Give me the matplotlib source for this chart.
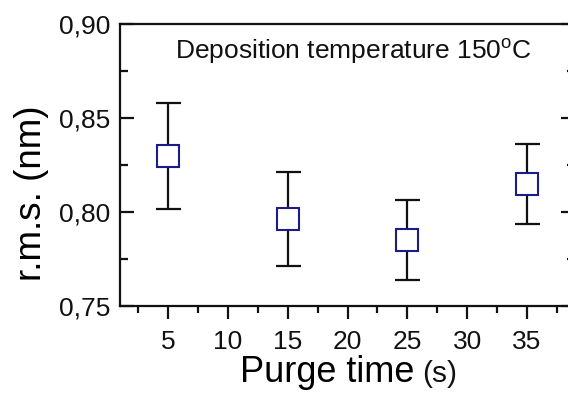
import matplotlib
matplotlib.use("Agg")
import matplotlib.pyplot as plt
from matplotlib.ticker import MultipleLocator, FixedFormatter, FixedLocator

plt.rcParams['font.family'] = ['Liberation Sans', 'DejaVu Sans']
plt.rcParams['mathtext.fontset'] = 'custom'
plt.rcParams['mathtext.rm'] = 'Liberation Sans'
plt.rcParams['mathtext.it'] = 'Liberation Sans:italic'

# Data
purge_time = [5, 15, 25, 35]
rms = [0.830, 0.7965, 0.7852, 0.815]
rms_err = [0.028, 0.025, 0.0213, 0.0213]
xticks = [5, 10, 15, 20, 25, 30, 35]
yticks = [0.75, 0.80, 0.85, 0.90]
ytick_labels = ['0,75', '0,80', '0,85', '0,90']

fig = plt.figure(figsize=(5.68, 3.96), dpi=100)
ax = fig.add_axes([120/568, 1 - 306.3/396, 455/568, 282/396])

ax.errorbar(purge_time, rms, yerr=rms_err, fmt='none', ecolor='#111111',
            elinewidth=1.6, capsize=9, capthick=1.6, zorder=2)
ax.plot(purge_time, rms, linestyle='none', marker='s', markersize=15.5,
        markerfacecolor='white', markeredgecolor='#1c1c88', markeredgewidth=1.5,
        zorder=3)

ax.set_xlim(1, 39)
ax.set_ylim(0.75, 0.90)

ax.xaxis.set_major_locator(FixedLocator(xticks))
ax.xaxis.set_minor_locator(MultipleLocator(2.5))
ax.yaxis.set_major_locator(FixedLocator(yticks))
ax.yaxis.set_major_formatter(FixedFormatter(ytick_labels))
ax.yaxis.set_minor_locator(MultipleLocator(0.025))

for s in ax.spines.values():
    s.set_linewidth(1.6)
    s.set_color('#111111')

ax.tick_params(axis='x', which='major', direction='out', length=9, width=1.6,
               labelsize=19, pad=8, top=False, colors='#111111')
ax.tick_params(axis='x', which='minor', direction='out', length=5, width=1.6, top=False,
               colors='#111111')
ax.tick_params(axis='y', which='major', direction='in', length=10, width=1.6,
               labelsize=19, pad=7, right=True, colors='#111111')
ax.tick_params(axis='y', which='minor', direction='in', length=6, width=1.6, right=True,
               colors='#111111')

ax.set_ylabel('r.m.s. (nm)', fontsize=26.5)
ax.yaxis.set_label_coords(-0.156, 0.40)

ax.set_xlabel('Purge time', fontsize=26, ha='left', va='baseline')
ax.xaxis.set_label_coords(0.264, -0.268)
ax.text(0.664, -0.268, '(s)', transform=ax.transAxes, fontsize=21.5,
        ha='left', va='baseline', color='#111111')

ax.text(0.121, 0.902, 'Deposition temperature 150$^{\\mathregular{o}}$C',
        transform=ax.transAxes, fontsize=19, ha='left', va='center', color='#111111')

fig.savefig('out.png', dpi=100)
